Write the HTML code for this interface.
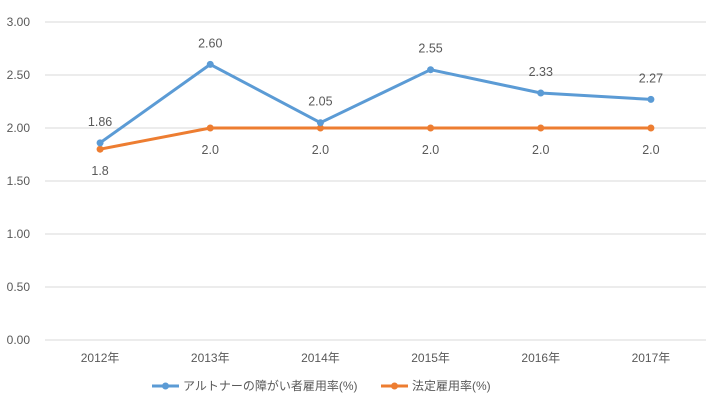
<!DOCTYPE html>
<html><head><meta charset="utf-8"><style>
body{margin:0;background:#fff;}
svg text{font-family:"Liberation Sans","Noto Sans CJK JP",sans-serif;fill:#595959;}
</style></head><body>
<svg id="c" width="710" height="406"></svg>
<script>
const categories=["2012年","2013年","2014年","2015年","2016年","2017年"];
const seriesA=[1.86,2.60,2.05,2.55,2.33,2.27];
const seriesALabels=["1.86","2.60","2.05","2.55","2.33","2.27"];
const seriesB=[1.8,2.0,2.0,2.0,2.0,2.0];
const seriesBLabels=["1.8","2.0","2.0","2.0","2.0","2.0"];
const yTicks=[0,0.5,1,1.5,2,2.5,3];
const yTickLabels=["0.00","0.50","1.00","1.50","2.00","2.50","3.00"];
const legendNames=["アルトナーの障がい者雇用率(%)","法定雇用率(%)"];
const svg=document.getElementById('c');const NS="http://www.w3.org/2000/svg";
const x0=45,x1=706,y0=340,y1=22;
const xs=i=>x0+(x1-x0)/categories.length*(i+0.5);
const ys=v=>y0-(v/3)*(y0-y1);
function mk(t,a,p){const e=document.createElementNS(NS,t);for(const k in a)e.setAttribute(k,a[k]);(p||svg).appendChild(e);return e;}
yTicks.forEach((v,i)=>{
 const l=mk('line',{x1:x0,x2:x1,y1:ys(v),y2:ys(v),stroke:'#d9d9d9','stroke-width':1});
 
 
 const t=mk('text',{x:30,y:ys(v)+4,'text-anchor':'end','font-size':12});t.textContent=yTickLabels[i];
 
 
});
categories.forEach((c,i)=>{
 const t=mk('text',{x:xs(i),y:362,'text-anchor':'middle','font-size':12});t.textContent=c;
 
 
});
function series(vals,labs,color,above,name){
 const p=mk('polyline',{points:vals.map((v,i)=>xs(i)+','+ys(v)).join(' '),fill:'none',stroke:color,'stroke-width':3,'stroke-linejoin':'round'});
 
 
 vals.forEach((v,i)=>{
  const c=mk('circle',{cx:xs(i),cy:ys(v),r:3.5,fill:color});
  
  
  const t=mk('text',{x:xs(i),y:above?ys(v)-17:ys(v)+26,'text-anchor':'middle','font-size':12.5});t.textContent=labs[i];
  
  
 });
}
series(seriesB,seriesBLabels,'#ed7d31',false,'legal-rate');
series(seriesA,seriesALabels,'#5b9bd5',true,'altner-rate');
[[152,legendNames[0],'#5b9bd5','altner'],[381,legendNames[1],'#ed7d31','legal']].forEach(([x,n,col,k])=>{
 const g=mk('g',{});
 
 
 mk('line',{x1:x,x2:x+27,y1:386,y2:386,stroke:col,'stroke-width':3},g);
 mk('circle',{cx:x+13.5,cy:386,r:3.5,fill:col},g);
 const t=mk('text',{x:x+31,y:390,'font-size':12},g);t.textContent=n;
});
</script>
</body></html>
